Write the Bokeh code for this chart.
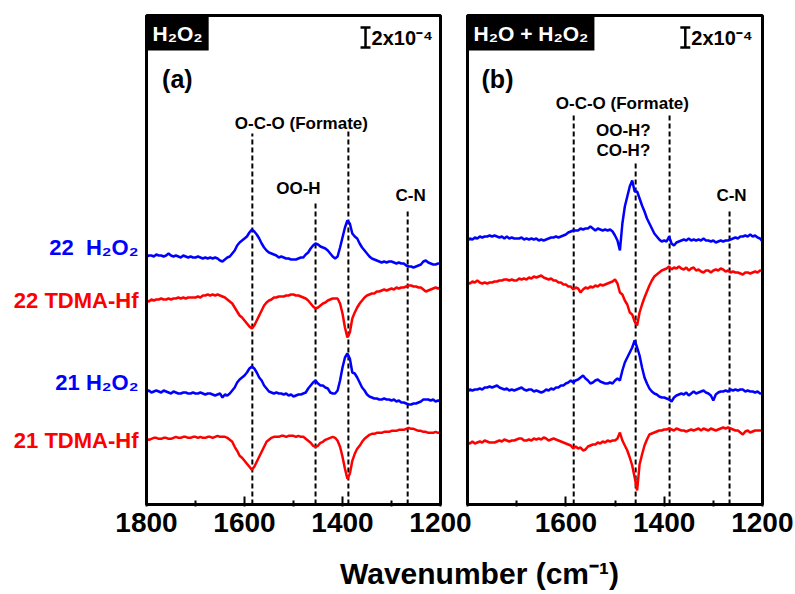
import numpy as np
from bokeh.plotting import figure
from bokeh.models import Range1d, FixedTicker, Label, BoxAnnotation
from bokeh.layouts import row, column
from bokeh.embed import file_html
from bokeh.resources import INLINE

# ---------------- data ----------------
wavenumber = list(range(1800, 1195, -5))  # cm-1, 121 points

# spectra in units of 1e-4 absorbance (relative to each trace's baseline)
a_22_h2o2 = [0.0, 0.1, 0.1, 0.0, 0.2, 0.1, 0.1, 0.0, 0.1, 0.3,
             0.1, 0.0, 0.1, 0.0, -0.1, 0.1, 0.0, -0.1, 0.0, -0.1,
             -0.1, 0.0, -0.1, -0.2, -0.1, -0.2, -0.1, -0.2, -0.1, -0.2,
             -0.4, -0.5, -0.3, -0.1, 0.0, 0.3, 0.6, 1.1, 1.4, 1.6,
             1.8, 2.0, 2.4, 2.7, 2.5, 2.2, 1.8, 1.3, 0.9, 0.6,
             0.4, 0.3, 0.2, 0.1, -0.1, 0.0, -0.1, -0.2, -0.2, -0.3,
             -0.3, -0.3, -0.2, -0.1, -0.1, 0.2, 0.4, 0.8, 1.1, 1.3,
             1.2, 1.0, 0.9, 0.8, 0.6, 0.3, 0.0, -0.2, 0.0, 0.9,
             1.9, 2.9, 3.6, 3.3, 2.3, 2.0, 1.8, 1.3, 0.9, 0.6,
             0.3, 0.0, -0.2, -0.3, -0.4, -0.5, -0.6, -0.5, -0.6, -0.5,
             -0.5, -0.6, -0.7, -0.6, -0.7, -0.7, -0.9, -1.0, -1.0, -1.1,
             -1.0, -0.9, -0.8, -0.5, -0.4, -0.6, -0.7, -0.8, -0.8, -0.7,
             -0.7]
a_22_tdma = [0.0, -0.1, 0.1, 0.0, 0.1, 0.1, 0.2, 0.1, 0.1, 0.2,
             0.1, 0.2, 0.2, 0.3, 0.2, 0.3, 0.2, 0.3, 0.3, 0.3,
             0.3, 0.4, 0.3, 0.5, 0.5, 0.6, 0.5, 0.6, 0.5, 0.6,
             0.5, 0.4, 0.3, 0.1, -0.1, -0.3, -0.7, -1.1, -1.5, -1.7,
             -2.0, -2.3, -2.6, -2.8, -2.5, -2.0, -1.5, -1.0, -0.5, -0.2,
             0.0, 0.1, 0.3, 0.3, 0.4, 0.4, 0.4, 0.5, 0.5, 0.6,
             0.6, 0.5, 0.5, 0.4, 0.3, 0.2, 0.0, -0.3, -0.6, -0.8,
             -0.7, -0.5, -0.3, -0.2, 0.0, 0.1, 0.2, 0.2, 0.2, -0.3,
             -1.3, -2.7, -3.7, -3.2, -1.8, -1.2, -0.7, -0.3, 0.0, 0.3,
             0.5, 0.6, 0.7, 0.7, 0.9, 0.9, 1.0, 1.1, 1.0, 1.1,
             1.2, 1.1, 1.3, 1.2, 1.3, 1.3, 1.4, 1.5, 1.5, 1.4,
             1.4, 1.3, 1.3, 1.1, 0.9, 1.0, 1.1, 1.2, 1.3, 1.2,
             1.3]
a_21_h2o2 = [0.0, 0.1, -0.1, 0.0, 0.1, 0.0, -0.1, 0.1, 0.0, -0.1,
             -0.2, 0.0, -0.1, -0.2, -0.2, -0.1, -0.1, -0.2, -0.2, -0.1,
             -0.2, -0.2, -0.1, -0.2, -0.3, -0.2, -0.2, -0.3, -0.4, -0.3,
             -0.2, -0.6, -0.3, -0.4, -0.2, 0.1, 0.4, 0.9, 1.2, 1.4,
             1.6, 1.9, 2.3, 2.5, 2.3, 1.9, 1.4, 1.1, 0.6, 0.3,
             0.0, -0.1, -0.2, -0.1, -0.2, -0.2, -0.3, -0.2, -0.4, -0.3,
             -0.5, -0.4, -0.3, -0.3, -0.2, -0.1, 0.3, 0.6, 0.9, 1.1,
             0.8, 0.6, 0.6, 0.4, 0.3, -0.1, -0.2, -0.2, 0.1, 1.1,
             2.4, 3.4, 3.8, 3.3, 1.9, 1.8, 1.4, 0.9, 0.4, 0.1,
             -0.3, -0.5, -0.6, -0.7, -0.7, -0.8, -0.8, -0.7, -0.8, -0.8,
             -0.9, -0.8, -1.0, -0.9, -1.1, -1.1, -1.2, -1.3, -1.3, -1.2,
             -1.2, -1.1, -1.0, -0.8, -0.8, -0.8, -0.9, -0.8, -1.0, -0.9,
             -1.0]
a_21_tdma = [0.0, -0.1, 0.0, 0.1, 0.1, 0.0, 0.0, 0.1, 0.1, 0.0,
             0.0, 0.1, 0.2, 0.1, 0.1, 0.2, 0.2, 0.1, 0.1, 0.2,
             0.2, 0.1, 0.2, 0.1, 0.1, 0.2, 0.2, 0.1, 0.2, 0.3,
             0.2, 0.2, 0.2, 0.1, -0.1, -0.3, -0.8, -1.2, -1.7, -1.9,
             -2.2, -2.5, -2.8, -3.1, -2.8, -2.3, -1.8, -1.3, -0.8, -0.3,
             -0.1, 0.1, 0.2, 0.2, 0.2, 0.3, 0.3, 0.2, 0.3, 0.3,
             0.3, 0.2, 0.3, 0.2, 0.2, 0.0, -0.2, -0.4, -0.7, -0.8,
             -0.7, -0.4, -0.3, -0.1, 0.0, 0.1, 0.2, 0.1, -0.2, -0.8,
             -1.8, -3.0, -4.0, -3.5, -2.2, -1.5, -1.0, -0.7, -0.3, 0.0,
             0.2, 0.4, 0.5, 0.5, 0.6, 0.6, 0.6, 0.7, 0.7, 0.7,
             0.8, 0.8, 0.8, 0.9, 0.9, 0.9, 1.0, 1.1, 1.0, 1.0,
             0.9, 0.8, 0.8, 0.7, 0.7, 0.6, 0.6, 0.6, 0.7, 0.6,
             0.6]

b_22_h2o2 = [-0.1, 0.1, 0.0, 0.2, 0.1, 0.3, 0.2, 0.3, 0.3, 0.4,
             0.3, 0.4, 0.3, 0.2, 0.3, 0.1, 0.3, 0.1, 0.2, 0.1,
             0.1, 0.1, 0.2, 0.0, 0.1, 0.0, 0.1, 0.0, 0.1, -0.1,
             0.0, -0.1, 0.0, 0.1, 0.2, 0.2, 0.3, 0.2, 0.3, 0.4,
             0.5, 0.7, 0.8, 0.9, 0.9, 0.9, 1.1, 1.0, 1.1, 1.1,
             1.3, 1.1, 0.9, 1.1, 1.0, 0.9, 1.0, 0.9, 1.0, 0.8,
             0.4, -0.1, -1.1, 1.6, 3.3, 4.3, 5.3, 5.9, 4.8, 4.8,
             4.1, 3.4, 2.8, 2.1, 1.6, 1.1, 0.6, 0.3, 0.0, -0.2,
             -0.1, -0.2, 0.3, -0.4, -0.6, -0.3, -0.2, -0.1, 0.0, -0.1,
             0.1, -0.1, 0.0, -0.1, 0.0, -0.1, 0.1, -0.1, -0.1, -0.2,
             -0.1, -0.3, -0.2, -0.1, -0.2, -0.1, -0.1, 0.0, 0.1, 0.2,
             0.1, 0.3, 0.3, 0.4, 0.3, 0.5, 0.3, 0.4, 0.2, 0.1,
             -0.2]
b_22_tdma = [0.0, -0.1, 0.1, 0.0, 0.2, 0.0, -0.1, 0.0, -0.1, 0.0,
             0.0, 0.1, 0.1, 0.2, 0.2, 0.3, 0.3, 0.2, 0.3, 0.2,
             0.2, 0.4, 0.3, 0.4, 0.3, 0.5, 0.4, 0.6, 0.5, 0.6,
             0.7, 0.5, 0.4, 0.3, 0.4, 0.2, 0.2, 0.0, 0.0, -0.2,
             -0.2, -0.4, -0.4, -0.7, -0.5, -0.6, -1.0, -0.7, -0.5, -0.6,
             -0.4, -0.5, -0.3, -0.4, -0.2, -0.3, -0.2, -0.1, 0.0, 0.1,
             0.3, -0.1, -1.0, -1.2, -1.8, -2.2, -3.0, -3.2, -3.9, -4.3,
             -3.0, -2.2, -1.5, -0.9, -0.3, 0.2, 0.6, 0.8, 1.0, 1.2,
             1.3, 1.4, 1.6, 1.3, 1.5, 1.4, 1.6, 1.4, 1.3, 1.5,
             1.2, 1.4, 1.5, 1.2, 1.3, 1.1, 1.0, 1.2, 1.2, 1.0,
             1.2, 1.3, 1.2, 1.4, 1.3, 1.1, 1.2, 1.0, 1.1, 1.0,
             1.0, 0.9, 0.8, 1.0, 1.0, 0.9, 1.0, 1.1, 1.0, 1.2,
             1.2]
b_21_h2o2 = [-0.1, 0.1, 0.0, 0.1, 0.1, 0.2, 0.1, 0.3, 0.3, 0.4,
             0.3, 0.4, 0.5, 0.3, 0.2, 0.1, 0.2, 0.0, 0.1, 0.0,
             0.1, 0.2, 0.3, 0.1, 0.0, 0.1, 0.1, -0.1, 0.0, -0.1,
             -0.2, -0.1, 0.1, 0.0, 0.2, 0.1, 0.3, 0.3, 0.5, 0.5,
             0.7, 0.8, 1.0, 0.8, 1.0, 1.1, 1.3, 1.5, 1.2, 1.0,
             0.7, 0.8, 1.0, 1.1, 0.9, 0.8, 0.7, 0.7, 0.8, 0.7,
             1.0, 1.2, 1.0, 2.0, 2.8, 3.3, 3.8, 4.3, 5.0, 4.3,
             3.5, 2.3, 1.3, 0.7, 0.2, -0.1, -0.3, -0.4, -0.6, -0.7,
             -0.7, -0.8, -0.9, -1.1, -0.7, -0.5, -0.4, -0.3, -0.4, -0.2,
             -0.5, -0.3, -0.1, -0.3, -0.2, -0.1, 0.0, -0.2, -0.3, -0.5,
             -1.0, -0.4, -0.2, -0.1, -0.1, 0.0, -0.1, 0.1, 0.0, 0.1,
             0.0, 0.1, 0.1, -0.1, 0.0, -0.1, -0.1, -0.2, -0.1, -0.3,
             -0.3]
b_21_tdma = [0.0, -0.1, 0.1, -0.1, 0.0, 0.1, 0.0, 0.2, 0.1, 0.0,
             0.0, 0.0, 0.1, 0.2, 0.1, 0.3, 0.2, 0.1, 0.2, 0.2,
             0.3, 0.4, 0.4, 0.2, 0.2, 0.3, 0.2, 0.4, 0.3, 0.4,
             0.3, 0.5, 0.4, 0.2, 0.3, 0.4, 0.3, 0.2, 0.1, 0.0,
             -0.1, -0.2, -0.3, -0.6, -0.4, -0.6, -0.5, -0.8, -0.7, -0.4,
             -0.3, -0.2, -0.2, 0.0, -0.1, 0.1, 0.0, 0.2, 0.1, 0.2,
             0.2, 0.4, 1.0, 0.2, -0.3, -0.8, -1.5, -2.3, -3.5, -4.8,
             -2.2, -1.2, -0.3, 0.3, 0.8, 0.9, 1.0, 1.1, 1.2, 1.2,
             1.3, 1.3, 1.4, 1.3, 1.2, 1.4, 1.3, 1.2, 1.2, 1.1,
             1.2, 1.3, 1.2, 1.3, 1.4, 1.2, 1.4, 1.3, 1.2, 1.4,
             1.3, 1.2, 1.3, 1.4, 1.5, 1.4, 1.5, 1.4, 1.3, 1.2,
             1.2, 1.0, 0.8, 1.1, 1.2, 1.0, 1.1, 1.2, 1.2, 1.2,
             1.2]

a_spectra = [a_22_h2o2, a_22_tdma, a_21_h2o2, a_21_tdma]
b_spectra = [b_22_h2o2, b_22_tdma, b_21_h2o2, b_21_tdma]
a_offsets = [24.8, 20.4, 11.3, 6.57]   # vertical stacking offsets (1e-4)
b_offsets = [26.5, 22.2, 11.4, 6.2]
for s in a_spectra + b_spectra:
    assert len(s) == len(wavenumber), len(s)

series_labels = ["22\u00a0 H\u2082O\u2082", "22 TDMA-Hf", "21 H\u2082O\u2082", "21 TDMA-Hf"]
series_colors = ["#0000ff", "#ff0000", "#0000ff", "#ff0000"]

a_peaks = [1584, 1455, 1388, 1267]
b_peaks = [1584, 1458, 1389, 1267]
major_ticks = [1800, 1600, 1400, 1200]
minor_ticks = [1700, 1500, 1300]
scale_bar = 2.0  # 2x10^-4

FONT = "Liberation Sans"
Y_TOP = 48.9
PX_PER_WN = 0.49


def make_panel(width, height, border_left, border_right, x_start, x_end, title,
               tag, peaks, peak_tops, spectra, offsets, notes, tag_x, bar_x):
    p = figure(width=width, height=height, x_range=Range1d(x_start, x_end),
               y_range=Range1d(-0.2, Y_TOP + 0.2), toolbar_location=None,
               output_backend="svg", y_axis_location=None,
               min_border_left=border_left, min_border_right=border_right,
               min_border_top=13, min_border_bottom=height - 506)
    p.grid.visible = False
    p.outline_line_color = None
    p.background_fill_color = "white"
    ax = p.xaxis[0]
    ax.ticker = FixedTicker(ticks=major_ticks, minor_ticks=minor_ticks)
    ax.axis_line_color = None
    ax.major_tick_in = 10
    ax.major_tick_out = 0
    ax.minor_tick_in = 6
    ax.minor_tick_out = 0
    ax.major_tick_line_width = 2
    ax.minor_tick_line_width = 2
    ax.major_label_text_font = FONT
    ax.major_label_text_font_style = "bold"
    ax.major_label_text_font_size = "28px"
    ax.major_label_text_color = "black"
    ax.major_label_standoff = 6

    # panel frame
    p.add_layout(BoxAnnotation(left=1800, right=1200, bottom=0, top=Y_TOP,
                               fill_color=None, fill_alpha=0,
                               line_color="black", line_alpha=1.0,
                               line_width=3))

    # dashed assignment lines
    p.segment(x0=peaks, y0=[0] * len(peaks), x1=peaks, y1=peak_tops,
              line_color="black", line_width=2, line_dash="5 3")

    for spec, off, col in zip(spectra, offsets, series_colors):
        p.line(wavenumber, np.array(spec) + off, line_color=col, line_width=2.5)

    # scale bar
    bar_top = 47.7
    p.segment(x0=[bar_x], y0=[bar_top - scale_bar], x1=[bar_x], y1=[bar_top],
              line_color="black", line_width=2.5)
    p.scatter(x=[bar_x, bar_x], y=[bar_top - scale_bar, bar_top], marker="dash",
              size=10, line_color="black", line_width=2.5)
    p.add_layout(Label(x=bar_x, y=bar_top - scale_bar / 2, x_offset=6,
                       text="2x10\u207b\u2074", text_align="left",
                       text_baseline="middle", text_font=FONT,
                       text_font_style="bold", text_font_size="20px",
                       text_color="black"))

    # title box
    p.add_layout(Label(x=1800, y=Y_TOP, text=title, text_align="left",
                       text_baseline="top", text_font=FONT,
                       text_font_style="bold", text_font_size="21px",
                       text_color="white", background_fill_color="black",
                       padding=6))
    # panel tag
    p.add_layout(Label(x=tag_x, y=42.6, text=tag, text_align="center",
                       text_baseline="middle", text_font=FONT,
                       text_font_style="bold", text_font_size="25px",
                       text_color="black"))
    for (tx, ty, tt) in notes:
        p.add_layout(Label(x=tx, y=ty, text=tt, text_align="center",
                           text_baseline="middle", text_font=FONT,
                           text_font_style="bold", text_font_size="17px",
                           text_color="black"))
    return p


H = 546
# panel (a): frame extends to the left page edge so the sample labels fit inside it
pa = make_panel(480, H, 0, 38, 1800 + 146 / PX_PER_WN, 1200 - 2 / PX_PER_WN,
                "H\u2082O\u2082", "(a)", a_peaks,
                [37.1, 30.4, 37.3, 29.6], a_spectra, a_offsets,
                [(1484, 38.1, "O-C-O (Formate)"), (1490, 31.6, "OO-H"),
                 (1261, 30.9, "C-N")], 1737, 1353)
pb = make_panel(340, H, 12, 29, 1800 + 2 / 0.4917, 1200 - 2 / 0.4917,
                "H\u2082O + H\u2082O\u2082", "(b)", b_peaks,
                [38.9, 34.4, 38.9, 29.6], b_spectra, b_offsets,
                [(1485, 40.1, "O-C-O (Formate)"), (1483, 37.4, "OO-H?"),
                 (1483, 35.4, "CO-H?"), (1263, 30.9, "C-N")], 1739, 1357)
pb.xaxis[0].major_label_overrides = {1800: ""}
pb.border_fill_alpha = 0
pb.styles = {"margin-left": "-27px"}

# sample labels left of panel (a)
label_shift = [0.9, 0.0, 0.9, -0.2]
for lab, off, sh, col in zip(series_labels, a_offsets, label_shift, series_colors):
    pa.add_layout(Label(x=1800, y=off + sh, x_offset=-8, text=lab,
                        text_align="right", text_baseline="middle",
                        text_font=FONT, text_font_style="bold",
                        text_font_size="22px", text_color=col))

# shared x-axis title strip
strip = figure(width=793, height=48, x_range=Range1d(0, 793), y_range=Range1d(0, 48),
               toolbar_location=None, output_backend="svg",
               x_axis_location=None, y_axis_location=None,
               min_border_left=0, min_border_right=0, min_border_top=0,
               min_border_bottom=0)
strip.grid.visible = False
strip.outline_line_color = None
strip.add_layout(Label(x=479, y=21, text="Wavenumber (cm\u207b\u00b9)",
                       text_align="center", text_baseline="middle",
                       text_font=FONT, text_font_style="bold",
                       text_font_size="30px", text_color="black"))

layout = column(row(pa, pb), strip)
open("out.html", "w").write(file_html(layout, INLINE))
